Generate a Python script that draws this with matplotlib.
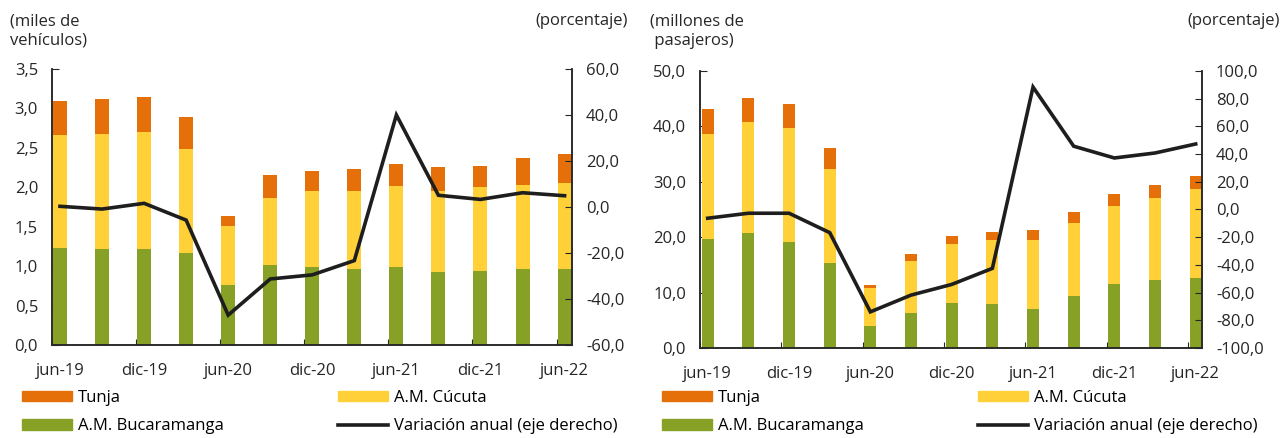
import matplotlib
matplotlib.use("Agg")
import matplotlib.pyplot as plt
from matplotlib.ticker import FuncFormatter
from matplotlib.patches import Patch
from matplotlib.lines import Line2D

plt.rcParams['font.family'] = ['Open Sans', 'DejaVu Sans']
plt.rcParams['font.size'] = 12
FS = 12

periods = ["jun-19", "sep-19", "dic-19", "mar-20", "jun-20", "sep-20", "dic-20",
           "mar-21", "jun-21", "sep-21", "dic-21", "mar-22", "jun-22"]

# vehiculos (miles)
veh_buc = [1.23, 1.22, 1.22, 1.17, 0.76, 1.01, 0.99, 0.97, 0.99, 0.92, 0.94, 0.96, 0.97]
veh_cuc = [1.43, 1.46, 1.48, 1.32, 0.75, 0.86, 0.96, 0.98, 1.03, 1.03, 1.06, 1.07, 1.09]
veh_tun = [0.44, 0.44, 0.44, 0.40, 0.12, 0.28, 0.26, 0.28, 0.27, 0.31, 0.27, 0.34, 0.36]
veh_var = [0.3, -0.9, 1.6, -5.7, -47.0, -31.3, -29.5, -23.3, 40.0, 5.1, 3.3, 6.2, 4.9]

# pasajeros (millones)
pas_buc = [19.7, 20.7, 19.2, 15.3, 3.9, 6.3, 8.1, 7.9, 7.0, 9.3, 11.6, 12.3, 12.7]
pas_cuc = [19.0, 20.1, 20.6, 17.1, 7.0, 9.4, 10.6, 11.6, 12.5, 13.2, 14.1, 14.8, 16.0]
pas_tun = [4.4, 4.4, 4.2, 3.7, 0.4, 1.2, 1.5, 1.4, 1.8, 2.1, 2.1, 2.3, 2.3]
pas_var = [-6.3, -2.7, -2.7, -16.7, -73.9, -61.8, -54.1, -42.5, 88.4, 45.7, 37.2, 40.8, 47.3]

C_TUN = "#E5700A"
C_CUC = "#FFD037"
C_BUC = "#87A026"
C_LINE = "#1e1e1e"
C_AX = "#262626"

comma = FuncFormatter(lambda v, p: f"{v:.1f}".replace(".", ","))


def panel(fig, rect, buc, cuc, tun, var, width, ylim, yticks, y2lim, y2ticks):
    ax = fig.add_axes(rect)
    x = list(range(len(periods)))
    bot2 = [a + b for a, b in zip(buc, cuc)]
    ax.bar(x, buc, width, color=C_BUC, zorder=2)
    ax.bar(x, cuc, width, bottom=buc, color=C_CUC, zorder=2)
    ax.bar(x, tun, width, bottom=bot2, color=C_TUN, zorder=2)
    ax.set_xlim(-0.19, len(periods) - 1 + width / 2 + 0.01)
    ax.set_ylim(*ylim)
    ax.set_yticks(yticks)
    ax.yaxis.set_major_formatter(comma)

    ax2 = ax.twinx()
    ax2.plot(x, var, color=C_LINE, lw=2.6, solid_joinstyle="miter", zorder=3)
    ax2.set_ylim(*y2lim)
    ax2.set_yticks(y2ticks)
    ax2.yaxis.set_major_formatter(comma)

    # ticks at bar edges, labels under bars
    lab_idx = list(range(0, len(periods), 2))
    ax.set_xticks([i - 0.19 for i in lab_idx])
    ax.set_xticklabels([])
    ax.set_xticks(lab_idx, minor=True)
    ax.set_xticklabels([periods[i] for i in lab_idx], minor=True)
    ax.tick_params(axis="x", which="major", direction="in", length=4, color=C_AX)
    ax.tick_params(axis="x", which="minor", length=0, pad=13, colors="#262626")
    ax.tick_params(axis="y", direction="in", length=5, pad=10, color=C_AX, labelcolor="#262626")
    ax2.tick_params(axis="y", direction="in", length=5, pad=10, color=C_AX, labelcolor="#262626")

    for a in (ax, ax2):
        a.spines["top"].set_visible(False)
        for s in ("left", "right", "bottom"):
            a.spines[s].set_color(C_AX)
            a.spines[s].set_linewidth(1.1)
    return ax, ax2


def legends(fig, x1, x2, y):
    h_t = Patch(color=C_TUN)
    h_c = Patch(color=C_CUC)
    h_b = Patch(color=C_BUC)
    h_l = Line2D([], [], color=C_LINE, lw=2.6)
    kw = dict(loc="upper left", frameon=False, handlelength=3.0, handleheight=0.58,
              handletextpad=0.35, labelspacing=0.75, borderpad=0, borderaxespad=0,
              fontsize=FS)
    fig.legend([h_t, h_b], ["Tunja", "A.M. Bucaramanga"], bbox_to_anchor=(x1, y), **kw)
    fig.legend([h_c, h_l], ["A.M. Cúcuta", "Variación anual (eje derecho)"],
               bbox_to_anchor=(x2, y), **kw)


W, H = 1283, 438
fig = plt.figure(figsize=(W / 100, H / 100), dpi=100)

panel(fig, [52 / W, 1 - 345 / H, 520 / W, 276 / H], veh_buc, veh_cuc, veh_tun, veh_var,
      0.333, (0, 3.5), [i * 0.5 for i in range(8)], (-60, 60), list(range(-60, 61, 20)))
panel(fig, [700 / W, 1 - 348 / H, 502 / W, 277 / H], pas_buc, pas_cuc, pas_tun, pas_var,
      0.29, (0, 50), list(range(0, 51, 10)), (-100, 100), list(range(-100, 101, 20)))

legends(fig, 22 / W, 338 / W, 1 - 390 / H)
legends(fig, 662 / W, 978 / W, 1 - 390 / H)

fig.text(10 / W, 1 - 31 / H, "(miles de\nvehículos)", ha="left", va="center",
         fontsize=FS, color="#262626", linespacing=1.3)
fig.text(628 / W, 1 - 21 / H, "(porcentaje)", ha="right", va="center",
         fontsize=FS, color="#262626")
fig.text(650 / W, 1 - 31 / H, "(millones de\n pasajeros)", ha="left", va="center",
         fontsize=FS, color="#262626", linespacing=1.3)
fig.text(1280 / W, 1 - 21 / H, "(porcentaje)", ha="right", va="center",
         fontsize=FS, color="#262626")

fig.savefig("out.png", dpi=100)
